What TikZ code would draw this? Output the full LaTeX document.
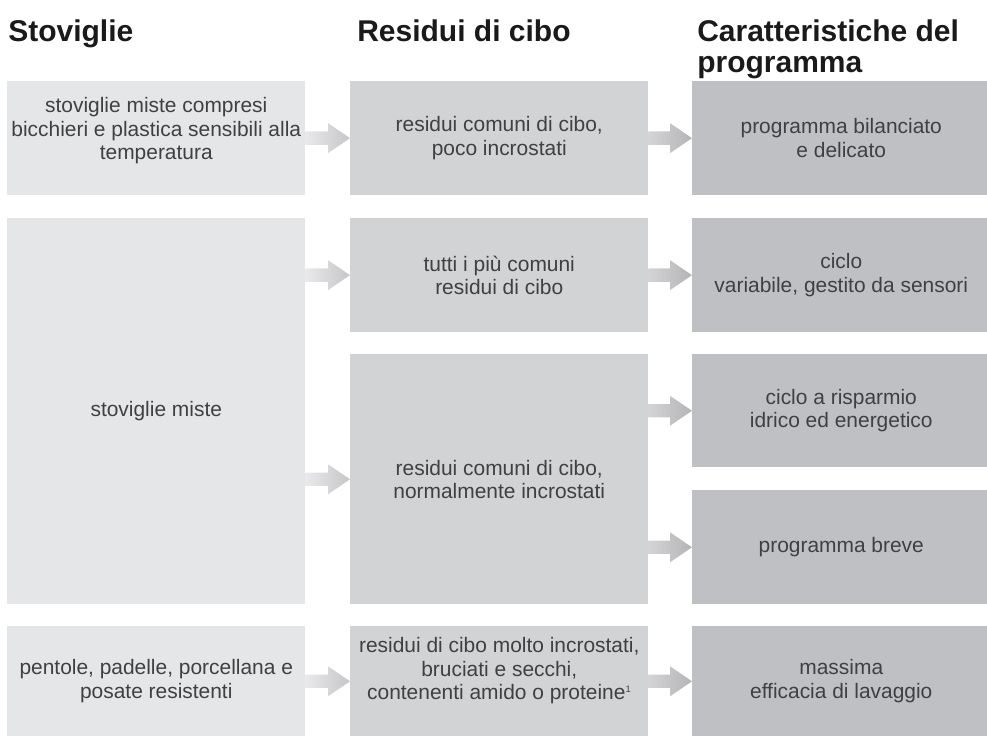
\documentclass[tikz,border=0pt]{standalone}
\usepackage{fontspec}
\setmainfont{Liberation Sans}
\usetikzlibrary{calc, positioning}

\definecolor{stovfill}{HTML}{E5E6E8}
\definecolor{residfill}{HTML}{D2D3D5}
\definecolor{progfill}{HTML}{BFC0C3}
\definecolor{bodytext}{HTML}{404042}
\definecolor{headtext}{HTML}{1A1A1A}
\definecolor{arrowlightA}{HTML}{E9E9EB}
\definecolor{arrowdarkA}{HTML}{C6C6C8}
\definecolor{arrowlightB}{HTML}{D4D4D6}
\definecolor{arrowdarkB}{HTML}{B4B4B6}

% shaded block arrow from #1 to #2, colours #3 -> #4
\newcommand{\blockarrow}[4]{%
  \shade[left color=#3, right color=#4]
    ($(#1)+(0,-6.7)$) -- ($(#2)+(-22,-6.7)$) -- ($(#2)+(-22,-15)$) -- (#2)
    -- ($(#2)+(-22,15)$) -- ($(#2)+(-22,6.7)$) -- ($(#1)+(0,6.7)$) -- cycle;}

\begin{document}
\begin{tikzpicture}[x=0.75pt, y=-0.75pt,
    cell/.style={
        rectangle, anchor=north west, inner sep=0pt, align=center,
        minimum width=223.5pt, minimum height=85.3pt, text=bodytext,
        font=\fontsize{15.7}{17.6}\selectfont
    },
    stov/.style={cell, fill=stovfill},
    resid/.style={cell, fill=residfill},
    prog/.style={cell, fill=progfill},
    head/.style={
        anchor=north west, inner sep=0pt, align=left, text=headtext,
        font=\fontsize{22.5}{23.5}\selectfont\bfseries
    },
]
\useasboundingbox (0,0) rectangle (987,736);

% Headings
\node[head] (hstov) at (8,19) {Stoviglie};
\node[head] (hresid) at (357,19) {Residui di cibo};
\node[head] (hprog) at (697,19) {Caratteristiche del\\programma};

% Row 1
\node[stov, text depth=14pt] (stovA) at (7,81) {stoviglie miste compresi\\bicchieri e plastica sensibili alla\\temperatura};
\node[resid] (residA) at (350,81) {residui comuni di cibo,\\poco incrostati};
\node[prog] (progA) at (692,81) {programma bilanciato\\e delicato};

% Row 2
\node[stov, minimum height=289.5pt] (stovB) at (7,218) {stoviglie miste};
\node[resid] (residB) at (350,218) {tutti i più comuni\\residui di cibo};
\node[prog] (progB) at (692,218) {ciclo\\variabile, gestito da sensori};
\node[resid, minimum height=187.5pt] (residC) at (350,354) {residui comuni di cibo,\\normalmente incrostati};
\node[prog, minimum height=84.75pt] (progC) at (692,354) {ciclo a risparmio\\idrico ed energetico};
\node[prog, minimum height=85.5pt] (progD) at (692,490) {programma breve};

% Row 3
\node[stov, minimum height=82.5pt] (stovE) at (7,626) {pentole, padelle, porcellana e\\posate resistenti};
\node[resid, minimum height=82.5pt, text depth=19pt] (residE) at (350,626) {residui di cibo molto incrostati,\\bruciati e secchi,\\contenenti amido o proteine\textsuperscript{\scriptsize 1}};
\node[prog, minimum height=82.5pt] (progE) at (692,626) {massima\\efficacia di lavaggio};

% Arrows
\blockarrow{stovA.east}{residA.west}{arrowlightA}{arrowdarkA}
\blockarrow{residA.east}{progA.west}{arrowlightB}{arrowdarkB}
\blockarrow{stovB.east |- residB}{residB.west}{arrowlightA}{arrowdarkA}
\blockarrow{stovB.east |- residC}{residC.west}{arrowlightA}{arrowdarkA}
\blockarrow{residB.east}{progB.west}{arrowlightB}{arrowdarkB}
\blockarrow{residC.east |- progC}{progC.west}{arrowlightB}{arrowdarkB}
\blockarrow{residC.east |- progD}{progD.west}{arrowlightB}{arrowdarkB}
\blockarrow{stovE.east}{residE.west}{arrowlightA}{arrowdarkA}
\blockarrow{residE.east}{progE.west}{arrowlightB}{arrowdarkB}

\end{tikzpicture}
\end{document}
